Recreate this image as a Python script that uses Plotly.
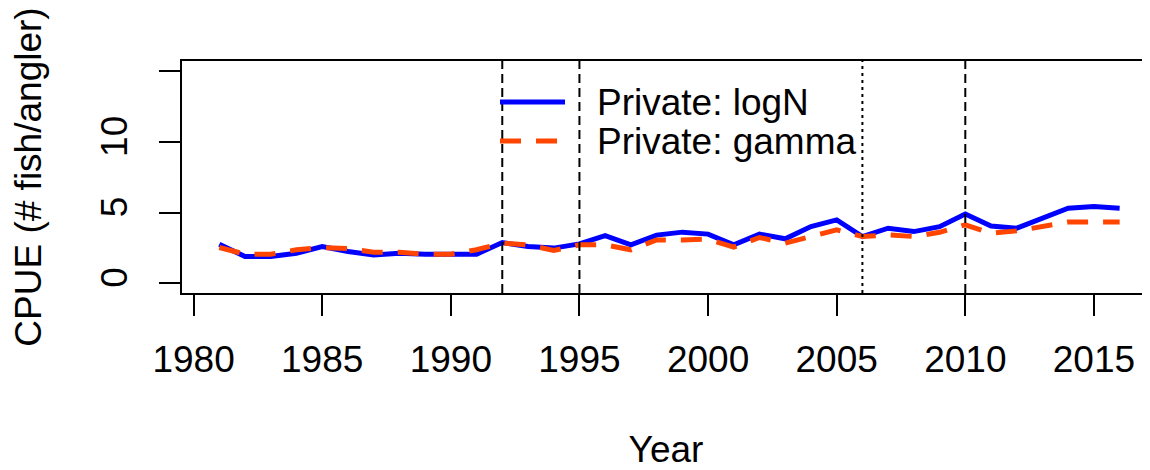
import plotly.graph_objects as go

years = list(range(1981, 2017))
lognormal = [2.76, 1.88, 1.88, 2.12, 2.59, 2.24, 2.00, 2.12, 2.05, 2.05,
             2.05, 2.87, 2.59, 2.48, 2.78, 3.37, 2.71, 3.40, 3.61, 3.47,
             2.71, 3.47, 3.14, 4.01, 4.48, 3.30, 3.89, 3.65, 4.00, 4.90,
             4.05, 3.89, 4.60, 5.31, 5.42, 5.31]
gamma = [2.52, 2.05, 2.05, 2.36, 2.52, 2.45, 2.19, 2.19, 2.05, 2.05,
         2.36, 2.83, 2.71, 2.31, 2.71, 2.71, 2.36, 3.06, 3.06, 3.11,
         2.55, 3.23, 2.83, 3.30, 3.77, 3.30, 3.42, 3.30, 3.60, 4.13,
         3.54, 3.70, 4.00, 4.32, 4.32, 4.32]
dashed_breaks = [1992, 1995, 2010]
dotted_breaks = [2006]
x_ticks = [1980, 1985, 1990, 1995, 2000, 2005, 2010, 2015]
y_ticks = [0, 5, 10, 15]
y_ticktext = ["0", "5", "10", ""]
legend_labels = ["Private: logN", "Private: gamma"]

FONT = "Arial, Liberation Sans, sans-serif"
FS = 37
OFF = 8  # page body margin
W, H = 1150 - OFF, 470 - OFF
# plot box in window pixels: left 182, top 61, bottom 293, right beyond 1150
L = 182 - OFF
T = 61 - OFF
B = (470 - 293)
plot_w = W - L
plot_h = H - T - B

def px(x):
    return (x - OFF - L) / plot_w

def py(y):
    return (H - B - (y - OFF)) / plot_h

fig = go.Figure()
fig.add_trace(go.Scatter(x=years, y=lognormal, mode="lines", name=legend_labels[0],
                         line=dict(color="#0000FF", width=5), showlegend=False))
fig.add_trace(go.Scatter(x=years, y=gamma, mode="lines", name=legend_labels[1],
                         line=dict(color="#FF4500", width=5, dash="21px,15px"), showlegend=False))

shapes = []
for xv in dashed_breaks:
    shapes.append(dict(type="line", xref="x", yref="paper", x0=xv, x1=xv, y0=0, y1=1,
                       line=dict(color="black", width=2, dash="9px,5px")))
for xv in dotted_breaks:
    shapes.append(dict(type="line", xref="x", yref="paper", x0=xv, x1=xv, y0=0, y1=1,
                       line=dict(color="black", width=2, dash="3px,4px")))

# manual legend
shapes.append(dict(type="line", xref="paper", yref="paper", x0=px(500), x1=px(565),
                   y0=py(102), y1=py(102), line=dict(color="#0000FF", width=5)))
shapes.append(dict(type="line", xref="paper", yref="paper", x0=px(500), x1=px(565),
                   y0=py(141), y1=py(141), line=dict(color="#FF4500", width=5, dash="21px,15px")))
annotations = []
for lab, yy in zip(legend_labels, [102, 141]):
    annotations.append(dict(text=lab, xref="paper", yref="paper", x=px(595), y=py(yy),
                            xanchor="left", yanchor="middle", showarrow=False,
                            font=dict(family=FONT, size=FS, color="black")))

fig.update_layout(
    width=W, height=H,
    margin=dict(l=L, r=0, t=T, b=B, pad=0),
    paper_bgcolor="white", plot_bgcolor="white",
    font=dict(family=FONT, size=FS, color="black"),
    shapes=shapes, annotations=annotations,
    showlegend=False,
)
fig.update_xaxes(range=[1979.55, 2017.18], tickvals=x_ticks, automargin=False,
                 ticks="outside", ticklen=21, tickwidth=2, tickcolor="black",
                 showline=True, linecolor="black", linewidth=2, mirror=True,
                 showgrid=False, zeroline=False, ticklabelstandoff=12,
                 title=dict(text="Year", font=dict(size=FS), standoff=58))
fig.update_yaxes(range=[-0.7, 15.73], tickvals=y_ticks, ticktext=y_ticktext, automargin=False,
                 ticks="outside", ticklen=21, tickwidth=2, tickcolor="black",
                 showline=True, linecolor="black", linewidth=2, mirror=False,
                 showgrid=False, zeroline=False, tickangle=-90, ticklabelstandoff=17,
                 title=dict(text="CPUE (# fish/angler)", font=dict(size=FS), standoff=46))

fig.write_html("out.html")
